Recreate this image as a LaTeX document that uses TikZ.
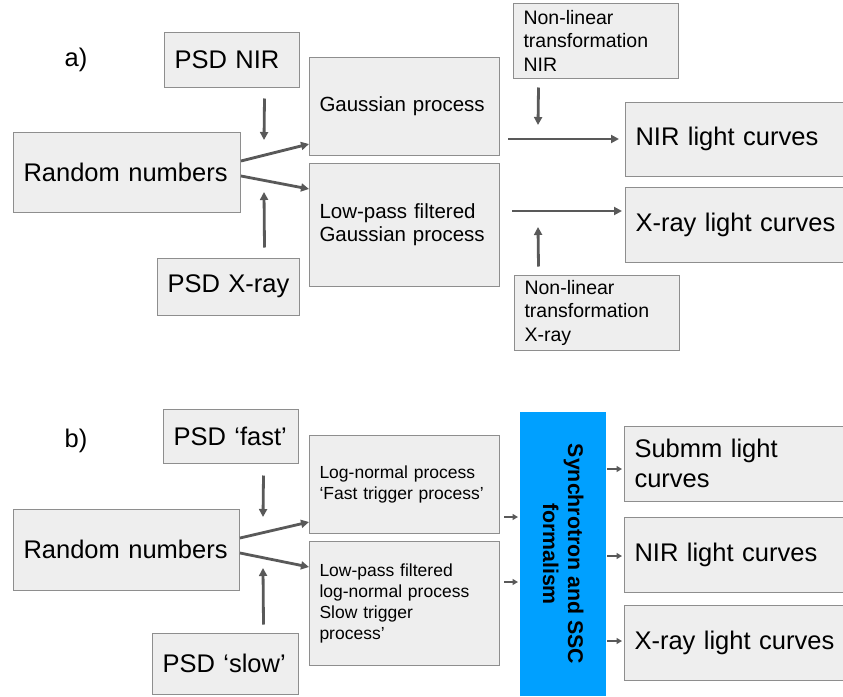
\documentclass[tikz,border=0pt]{standalone}
\usepackage{fontspec}
\setmainfont{Liberation Sans}
\usetikzlibrary{arrows.meta}

\definecolor{boxfill}{HTML}{EEEEEE}
\definecolor{boxline}{HTML}{8E8E8E}
\definecolor{arrowgray}{HTML}{595959}
\definecolor{synblue}{HTML}{00A0FF}

\begin{document}
\begin{tikzpicture}[x=1pt,y=-1pt,
    grey box/.style={draw=boxline, fill=boxfill, line width=1pt, anchor=west,
        inner xsep=10pt, inner ysep=0pt, align=left},
    blue box/.style={fill=synblue, anchor=west, inner sep=0pt},
    big/.style={font=\fontsize{25.5}{30}\selectfont},
    mid/.style={font=\fontsize{20.5}{23.5}\selectfont},
    nlt/.style={font=\fontsize{19.5}{23.5}\selectfont},
    small/.style={font=\fontsize{17.5}{21}\selectfont},
    syn text/.style={font=\bfseries\fontsize{21.3}{25}\selectfont, align=center, inner sep=0pt},
    main arrow/.style={-{Triangle[length=8pt,width=8pt]}, draw=arrowgray, line width=2.8pt},
    small arrow/.style={-{Triangle[length=5.5pt,width=6pt]}, draw=arrowgray, line width=1.6pt}]

    \useasboundingbox (0,0) rectangle (843,696);

    % a)
    \node[big] (lbla) at (76,60) {a)};
    \node[grey box, big, text width=115pt, minimum height=55pt] (psdnir) at (164,59.5) {PSD NIR};
    \node[grey box, big, text width=207pt, minimum height=80pt] (randa) at (13,172) {Random numbers};
    \node[grey box, big, text width=122pt, minimum height=57pt] (psdxray) at (157,286.5) {PSD X-ray};
    \node[grey box, mid, text width=170pt, minimum height=98pt] (gp) at (309,106) {Gaussian process};
    \node[grey box, mid, text width=170pt, minimum height=123pt] (lpgp) at (309,224.5) {Low-pass filtered\\Gaussian process};
    \node[grey box, nlt, text width=145pt, minimum height=75pt] (nltnir) at (513,40.5) {Non-linear\\transformation\\NIR};
    \node[grey box, big, text width=205pt, minimum height=74pt] (nirlca) at (625,139) {NIR light curves};
    \node[grey box, big, text width=205pt, minimum height=75pt] (xlca) at (625,224.5) {X-ray light curves};
    \node[grey box, nlt, text width=145pt, minimum height=75pt] (nltx) at (514,312.5) {Non-linear\\transformation\\X-ray};

    \coordinate (nirin) at (264,140);
    \coordinate (xrayin) at (264,192);
    \coordinate (nltnirin) at (538,125);
    \coordinate (nltxin) at (538,227);

    \draw[main arrow] ([xshift=32.5pt,yshift=-11pt]psdnir.south) -- (nirin);
    \draw[main arrow] ([xshift=36pt,yshift=10pt]psdxray.north) -- (xrayin);
    \draw[main arrow] ([yshift=11pt]randa.east) -- ([yshift=-38pt]gp.west);
    \draw[main arrow] ([yshift=-4pt]randa.east) -- ([yshift=35.5pt]lpgp.west);
    \draw[main arrow] ([xshift=8pt,yshift=-33pt]gp.east) -- ([xshift=-6pt]nirlca.west);
    \draw[main arrow] ([xshift=12pt,yshift=13.5pt]lpgp.east) -- ([xshift=-3pt,yshift=13.5pt]xlca.west);
    \draw[main arrow] ([xshift=-57.5pt,yshift=-9pt]nltnir.south) -- (nltnirin);
    \draw[main arrow] ([xshift=-58.5pt,yshift=8pt]nltx.north) -- (nltxin);

    % b)
    \node[big] (lblb) at (76,441) {b)};
    \node[grey box, big, text width=115pt, minimum height=54pt] (psdfast) at (163,436) {PSD ‘fast’};
    \node[grey box, big, text width=206pt, minimum height=81pt] (randb) at (13,549.5) {Random numbers};
    \node[grey box, big, text width=126pt, minimum height=61pt] (psdslow) at (152,663.5) {PSD ‘slow’};
    \node[grey box, small, text width=170pt, minimum height=98pt] (lnp) at (309,484) {Log-normal process\\‘Fast trigger process’};
    \node[grey box, small, text width=170pt, minimum height=124pt] (lplnp) at (309,603) {Low-pass filtered\\log-normal process\\Slow trigger\\process’};
    \node[blue box, minimum width=86pt, minimum height=284pt] (syn) at (520,554) {};
    \node[syn text, rotate=-90] (syntext) at (syn.center) {Synchrotron and SSC\\formalism};
    \node[grey box, big, text width=206pt, minimum height=75pt] (submm) at (624,463.5) {Submm light\\curves};
    \node[grey box, big, text width=206pt, minimum height=75pt] (nirlcb) at (624,554.5) {NIR light curves};
    \node[grey box, big, text width=206pt, minimum height=75pt] (xlcb) at (624,642.5) {X-ray light curves};

    \coordinate (fastin) at (263,517);
    \coordinate (slowin) at (263,568);

    \draw[main arrow] ([xshift=32.5pt,yshift=-12pt]psdfast.south) -- (fastin);
    \draw[main arrow] ([xshift=38pt,yshift=8pt]psdslow.north) -- (slowin);
    \draw[main arrow] ([yshift=11.5pt]randb.east) -- ([yshift=-38pt]lnp.west);
    \draw[main arrow] ([yshift=-3.5pt]randb.east) -- ([yshift=36pt]lplnp.west);
    \draw[small arrow] ([xshift=4pt,yshift=-33pt]lnp.east) -- ([xshift=-2pt,yshift=37pt]syn.west);
    \draw[small arrow] ([xshift=4pt,yshift=21pt]lplnp.east) -- ([xshift=-2pt,yshift=-28pt]syn.west);
    \draw[small arrow] ([xshift=1pt,yshift=85pt]syn.east) -- ([xshift=-2pt,yshift=-5.5pt]submm.west);
    \draw[small arrow] ([xshift=1pt,yshift=-2pt]syn.east) -- ([xshift=-2pt,yshift=-1.5pt]nirlcb.west);
    \draw[small arrow] ([xshift=1pt,yshift=-87pt]syn.east) -- ([xshift=-2pt,yshift=1.5pt]xlcb.west);

\end{tikzpicture}
\end{document}
